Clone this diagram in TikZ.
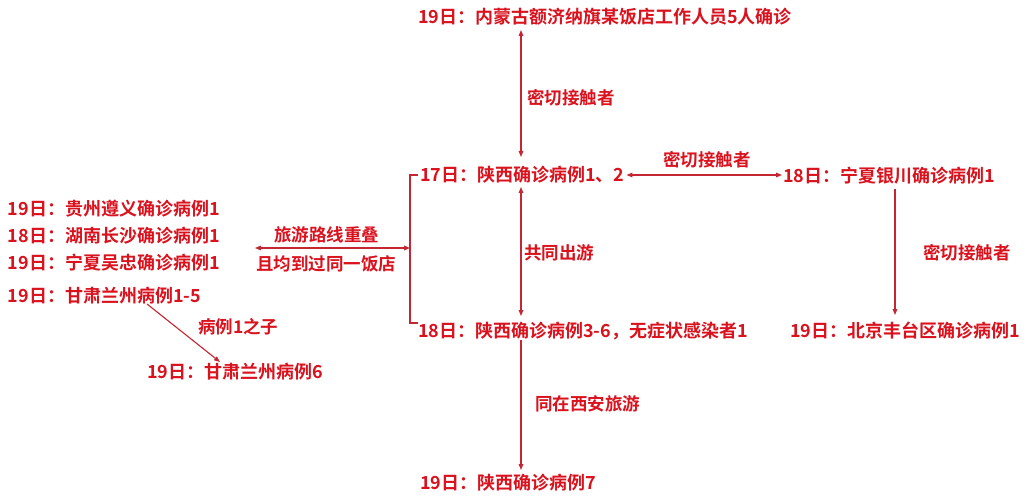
\documentclass[tikz,border=0pt]{standalone}
\usepackage{fontspec}
\setmainfont{Noto Sans CJK SC}[BoldFont={Noto Sans CJK SC Bold}]
\usetikzlibrary{arrows.meta}
\definecolor{txtred}{RGB}{218,18,30}
\definecolor{linered}{RGB}{196,38,50}
\begin{document}
\begin{tikzpicture}[x=1pt,y=-1pt,
  every node/.style={inner sep=0pt, outer sep=0pt, anchor=west, text=txtred,
    text height=15.8pt, text depth=2.2pt},
  casebox/.style={font=\fontsize{18}{20}\selectfont\bfseries},
  lab/.style={font=\fontsize{17.5}{20}\selectfont\bfseries, text height=15.4pt, text depth=2.1pt},
  conn/.style={draw=linered, line width=1.1pt},
  tip/.style={-{Triangle[length=6pt,width=4.6pt]}},
  dtip/.style={{Triangle[length=6pt,width=4.6pt]}-{Triangle[length=6pt,width=4.6pt]}}]
\useasboundingbox[fill=white] (0,0) rectangle (1029,500);

% case nodes
\node[casebox] (top) at (418,17) {19日：内蒙古额济纳旗某饭店工作人员5人确诊};
\node[casebox] (n17) at (420,175) {17日：陕西确诊病例1、2};
\node[casebox] (nx) at (783,176) {18日：宁夏银川确诊病例1};
\node[casebox] (n18) at (418,331) {18日：陕西确诊病例3-6，无症状感染者1};
\node[casebox] (bj) at (790,331) {19日：北京丰台区确诊病例1};
\node[casebox] (n7) at (420,483) {19日：陕西确诊病例7};
\node[casebox] (gz) at (8,209) {19日：贵州遵义确诊病例1};
\node[casebox] (hn) at (8,236) {18日：湖南长沙确诊病例1};
\node[casebox] (wz) at (8,263) {19日：宁夏吴忠确诊病例1};
\node[casebox] (lz) at (8,296) {19日：甘肃兰州病例1-5};
\node[casebox] (l6) at (147,372) {19日：甘肃兰州病例6};

% labels
\node[lab] (l1) at (527,98) {密切接触者};
\node[lab] (l2) at (663,160) {密切接触者};
\node[lab] (l3) at (923,253) {密切接触者};
\node[lab] (l4) at (524,253) {共同出游};
\node[lab] (l5) at (535,404) {同在西安旅游};
\node[lab] (l6a) at (274,235) {旅游路线重叠};
\node[lab] (l6b) at (256,264) {且均到过同一饭店};
\node[lab] (l7) at (198,327) {病例1之子};

% helper coordinates
\coordinate (vx) at (521,0);
\coordinate (vr) at (895,0);
\coordinate (bx) at (410,0);
\coordinate (hl) at (255,248);

% connectors
\draw[conn,dtip,shorten <=4pt,shorten >=9pt] (vx |- top.south) -- (vx |- n17.north);
\draw[conn,dtip,shorten <=3pt,shorten >=6pt] (vx |- n17.south) -- (vx |- n18.north);
\draw[conn,tip,shorten >=4pt] (vx |- n18.south) -- (vx |- n7.north);
\draw[conn,dtip,shorten <=2pt,shorten >=1pt] (n17.east) -- (nx.west |- n17.east);
\draw[conn,tip,shorten <=4pt,shorten >=7pt] (vr |- nx.south) -- (vr |- bj.north);
\draw[conn] ([xshift=-2pt]n17.west) -- (bx |- n17.west) -- ([yshift=8pt]bx |- n18.west) -- ([yshift=8pt]n18.west);
\draw[conn,dtip] (hl) -- (bx |- hl);
\draw[conn,tip] ([xshift=139pt,yshift=1pt]lz.south west) -- ([xshift=73pt,yshift=1pt]l6.north west);
\end{tikzpicture}
\end{document}
